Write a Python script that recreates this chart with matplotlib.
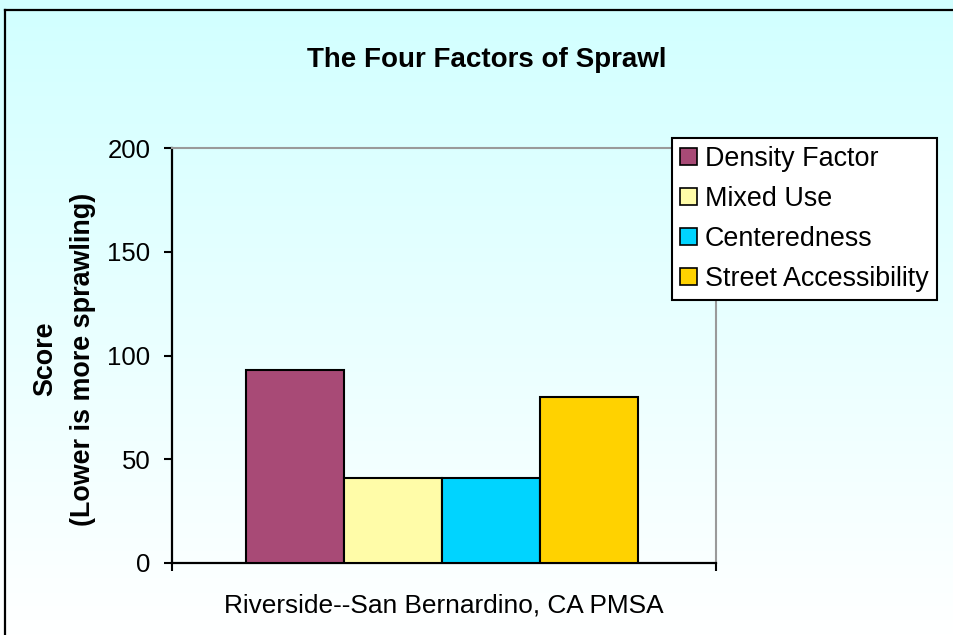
import numpy as np
import matplotlib
matplotlib.use("Agg")
import matplotlib.pyplot as plt
from matplotlib.patches import Patch
from matplotlib.lines import Line2D

# ---- data ----
title = "The Four Factors of Sprawl"
category = "Riverside--San Bernardino, CA PMSA"
series = ["Density Factor", "Mixed Use", "Centeredness", "Street Accessibility"]
values = [93, 41, 41, 80]
colors = ["#A84A76", "#FFFCA8", "#00D4FF", "#FFD200"]
yticks = [0, 50, 100, 150, 200]
ylabel = "Score\n(Lower is more sprawling)"

plt.rcParams['font.family'] = ['Liberation Sans', 'DejaVu Sans']

W, H = 954, 635
fig = plt.figure(figsize=(W / 100, H / 100), dpi=100)

# background gradient
bg = fig.add_axes([0, 0, 1, 1], zorder=-10)
top = np.array([0.82, 1.0, 1.0])
bot = np.array([1.0, 1.0, 1.0])
t = np.linspace(0, 1, 256)[:, None]
grad = top[None, None, :] * (1 - t[..., None]) + bot[None, None, :] * t[..., None]
grad = np.repeat(grad, 2, axis=1)
bg.imshow(grad, aspect='auto', extent=[0, 1, 0, 1], origin='upper')
bg.set_xlim(0, 1); bg.set_ylim(0, 1)
bg.axis('off')
# outer border (left and top)
bg.add_line(Line2D([5 / W, 5 / W], [0, 1 - 10 / H], color='black', lw=1.6))
bg.add_line(Line2D([5 / W, 1], [1 - 10 / H, 1 - 10 / H], color='black', lw=1.6))

ax = fig.add_axes([172 / W, 1 - 563 / H, (716 - 172) / W, (563 - 148) / H])
ax.patch.set_alpha(0)

n = len(series)
bw = 0.18
offsets = (np.arange(n) - (n - 1) / 2) * bw - 0.004
for off, v, c, s in zip(offsets, values, colors, series):
    ax.bar(0 + off, v, width=bw, color=c, edgecolor='black', linewidth=1.5, label=s, zorder=3)

FS = 18.5
ax.set_xlim(-0.5, 0.5)
ax.set_ylim(0, 200)
ax.set_yticks(yticks)
ax.set_yticklabels([str(v) for v in yticks], fontsize=FS)
ax.set_xticks([-0.5, 0.5])
ax.set_xticklabels(["", ""])
ax.set_xticks([0], minor=True)
ax.set_xticklabels([category], minor=True, fontsize=18.9)
ax.tick_params(axis='x', which='minor', length=0, pad=22)
ax.tick_params(axis='both', which='major', direction='out', length=5.5, width=1.5, color='black')
ax.tick_params(axis='y', pad=10)

for sp in ['left', 'bottom']:
    ax.spines[sp].set_color('black')
    ax.spines[sp].set_linewidth(1.6)
for sp in ['top', 'right']:
    ax.spines[sp].set_color('#9a9a9a')
    ax.spines[sp].set_linewidth(1.5)

fig.text(64 / W, 1 - 359 / H, ylabel, rotation=90, ha='center', va='center',
         fontsize=19.4, fontweight='bold', linespacing=1.6, multialignment='center')

fig.text(487 / W, 1 - 60 / H, title, ha='center', va='center', fontsize=20, fontweight='bold')

handles = [Patch(facecolor=c, edgecolor='black', linewidth=1.2) for c in colors]
leg = fig.legend(handles, series, loc='upper left',
                 bbox_to_anchor=(672 / W, 1 - 138 / H), bbox_transform=fig.transFigure,
                 fontsize=19.4, frameon=True, fancybox=False, borderaxespad=0,
                 handlelength=0.62, handleheight=0.62, handletextpad=0.3,
                 labelspacing=0.52, borderpad=0.3)
leg.get_frame().set_edgecolor('black')
leg.get_frame().set_linewidth(1.5)
leg.get_frame().set_facecolor('white')
leg.get_frame().set_alpha(1)

fig.savefig("out.png", dpi=100)
